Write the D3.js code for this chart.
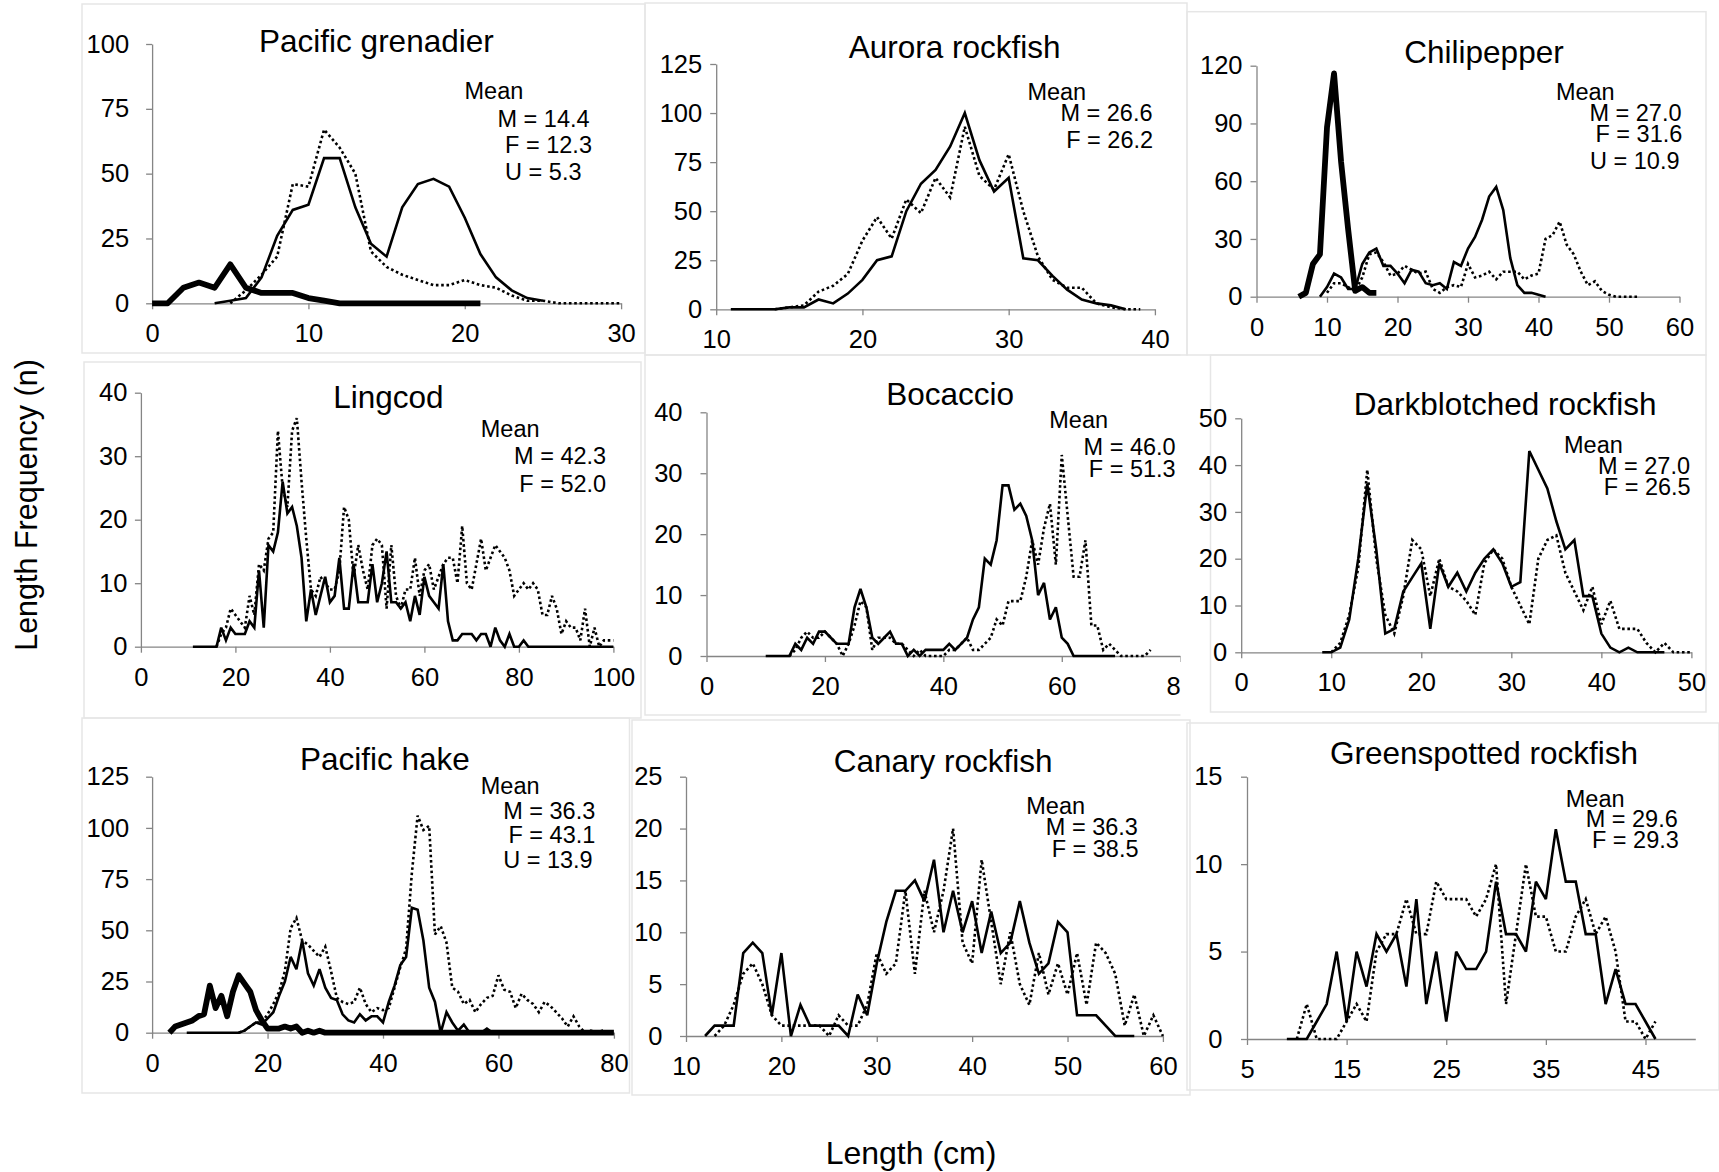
<!DOCTYPE html>
<html>
<head>
<meta charset="utf-8">
<script src="https://cdn.jsdelivr.net/npm/d3@7"></script>
<style>
  body { margin: 0; background: #fff; }
  svg { display: block; }
</style>
</head>
<body>
<svg id="chart" width="1719" height="1172"></svg>
<script>
// Length-frequency counts per 1-cm bin. Each series starts at the length
// given in the matching *Start array (order: male, female, unsexed).

// Pacific grenadier
const grenadierStart = [4, 5, 0];
const grenadierMale = [0,1,2,10,26,36,38,56,56,37,23,18,37,46,48,45,33,19,10,5,2,1];
const grenadierFemale = [0,5,11,18,46,45,67,60,50,20,14,11,9,7,7,9,7,6,3,1,1,0,0,0,0,0];
const grenadierUnsexed = [0,0,6,8,6,15,6,4,4,4,2,1,0,0,0,0,0,0,0,0,0,0];
const grenadierMeans = [14.4, 12.3, 5.3];
const grenadierXTicks = [0, 10, 20, 30];
const grenadierYTicks = [0, 25, 50, 75, 100];

// Aurora rockfish
const auroraStart = [11, 14];
const auroraMale = [0,0,0,0,1,1,5,3,8,15,25,27,50,64,71,83,100,76,60,67,26,25,17,10,5,3,2,0];
const auroraFemale = [0,1,2,9,12,18,35,47,36,56,49,67,57,93,68,61,79,50,27,15,11,11,3,1,0,0];
const auroraMeans = [26.6, 26.2];
const auroraXTicks = [10, 20, 30, 40];
const auroraYTicks = [0, 25, 50, 75, 100, 125];

// Chilipepper
const chilipepperStart = [9, 10, 6];
const chilipepperMale = [0,5,12,10,4,4,17,23,25,16,16,12,7,14,13,7,6,7,4,18,16,25,31,40,52,57,45,20,6,2,2,1,0];
const chilipepperFemale = [2,7,7,5,3,10,22,23,18,11,12,16,14,12,13,4,2,5,6,5,17,10,11,13,9,13,13,13,9,11,12,30,32,39,27,22,13,6,8,3,1,0,0,0,0];
const chilipepperUnsexed = [0,2,17,22,88,116,70,35,3,5,2,2];
const chilipepperMeans = [27.0, 31.6, 10.9];
const chilipepperXTicks = [0, 10, 20, 30, 40, 50, 60];
const chilipepperYTicks = [0, 30, 60, 90, 120];

// Lingcod
const lingcodStart = [11, 16];
const lingcodMale = [0,0,0,0,0,0,3,1,3,2,2,2,4,3,12,3,16,15,18,26,21,22,19,14,4,9,5,8,11,7,8,14,6,6,13,7,7,7,13,7,10,15,7,7,6,7,4,8,5,11,8,7,6,13,4,1,1,2,2,2,1,2,2,0,3,1,0,2,0,0,1,0,0,0,0,0,0,0,0,0,0,0,0,0,0,0,0,0,0,0];
const lingcodFemale = [0,2,3,6,5,4,3,8,5,13,12,17,18,34,25,22,34,36,26,17,9,8,11,10,9,9,12,22,20,11,16,12,9,16,17,16,6,16,8,6,9,9,14,8,12,13,9,11,13,14,14,10,19,10,9,13,17,12,14,16,15,14,12,8,9,10,9,10,9,5,5,8,6,2,4,3,3,1,6,0,3,0,1,1,1];
const lingcodMeans = [42.3, 52.0];
const lingcodXTicks = [0, 20, 40, 60, 80, 100];
const lingcodYTicks = [0, 10, 20, 30, 40];

// Bocaccio
const bocaccioStart = [10, 14];
const bocaccioMale = [0,0,0,0,0,2,1,3,2,4,4,3,2,2,2,8,11,8,3,2,3,4,2,2,0,1,0,1,1,1,1,2,1,2,3,6,8,16,15,19,28,28,24,25,23,19,10,12,6,8,3,2,0,0,0,0,0,0,0,0];
const bocaccioFemale = [0,1,3,4,3,3,4,3,2,0,2,5,9,8,1,3,3,3,2,2,1,0,1,0,0,0,0,1,1,2,3,1,1,2,3,6,5,9,9,9,13,19,15,21,25,15,33,23,13,13,19,5,5,1,2,1,0,0,0,0,0,1];
const bocaccioMeans = [46.0, 51.3];
const bocaccioXTicks = [0, 20, 40, 60, 80];
const bocaccioYTicks = [0, 10, 20, 30, 40];

// Darkblotched rockfish
const darkblotchedStart = [9, 10];
const darkblotchedMale = [0,0,1,7,20,36,22,4,5,13,16,19,5,19,14,17,13,17,20,22,19,14,15,43,39,35,28,22,24,12,12,4,1,0,1,0,0,0,0];
const darkblotchedFemale = [0,2,8,18,39,20,8,4,12,24,22,12,20,14,13,11,8,19,22,20,14,10,6,20,24,25,17,13,9,14,6,11,5,5,5,2,0,2,0,0,0];
const darkblotchedMeans = [27.0, 26.5];
const darkblotchedXTicks = [0, 10, 20, 30, 40, 50];
const darkblotchedYTicks = [0, 10, 20, 30, 40, 50];

// Pacific hake
const hakeStart = [6, 15, 3];
const hakeMale = [0,0,0,0,0,0,0,0,0,0,1,3,5,4,7,10,18,25,37,31,45,29,23,31,22,17,16,9,6,5,9,6,8,8,5,15,23,33,37,61,60,45,22,15,0,10,5,1,4,0,0,0,2,0,0,0,0,0];
const hakeFemale = [0,1,3,5,5,9,14,20,30,51,56,45,43,40,37,42,30,17,15,14,15,22,14,10,12,11,12,22,32,41,78,106,99,101,48,52,44,22,20,14,16,10,14,17,18,28,21,20,12,19,16,14,10,15,13,10,7,3,8,3,0,1,0,1,0,0];
const hakeUnsexed = [0,3,4,5,6,8,9,23,12,18,8,20,28,24,20,11,6,2,2,2,3,2,3,0,1,0,1,0,0,0,0,0,0,0,0,0,0,0,0,0,0,0,0,0,0,0,0,0,0,0,0,0,0,0,0,0,0,0,0,0,0,0,0,0,0,0,0,0,0,0,0,0,0,0,0,0,0,0];
const hakeMeans = [36.3, 43.1, 13.9];
const hakeXTicks = [0, 20, 40, 60, 80];
const hakeYTicks = [0, 25, 50, 75, 100, 125];

// Canary rockfish
const canaryStart = [12, 13];
const canaryMale = [0,1,1,1,8,9,8,2,8,0,3,1,1,1,1,0,4,2,7,11,14,14,15,13,17,10,14,10,13,8,12,8,9,13,9,6,7,11,10,2,2,2,1,0,0,0];
const canaryFemale = [0,1,3,6,7,5,2,1,1,1,1,1,0,2,1,1,3,8,6,7,14,6,14,10,14,20,9,7,17,11,5,10,5,3,8,4,7,4,8,3,9,8,6,1,4,0,2,0];
const canaryMeans = [36.3, 38.5];
const canaryXTicks = [10, 20, 30, 40, 50, 60];
const canaryYTicks = [0, 5, 10, 15, 20, 25];

// Greenspotted rockfish
const greenspottedStart = [9, 10];
const greenspottedMale = [0,0,0,1,2,5,1,5,3,6,5,6,3,8,2,5,1,5,4,4,5,9,6,6,5,9,8,12,9,9,6,6,2,4,2,2,1,0];
const greenspottedFemale = [0,2,0,0,0,1,2,1,5,6,6,8,6,6,9,8,8,8,7,8,10,2,6,10,7,7,5,5,7,8,6,7,5,1,1,0,1];
const greenspottedMeans = [29.6, 29.3];
const greenspottedXTicks = [5, 15, 25, 35, 45];
const greenspottedYTicks = [0, 5, 10, 15];

const sexCodes = ["M", "F", "U"];

const panels = [
  { title: "Pacific grenadier", start: grenadierStart, counts: [grenadierMale, grenadierFemale, grenadierUnsexed],
    means: grenadierMeans, xDomain: [0, 30], yDomain: [0, 100], xTicks: grenadierXTicks, yTicks: grenadierYTicks },
  { title: "Aurora rockfish", start: auroraStart, counts: [auroraMale, auroraFemale],
    means: auroraMeans, xDomain: [10, 40], yDomain: [0, 125], xTicks: auroraXTicks, yTicks: auroraYTicks },
  { title: "Chilipepper", start: chilipepperStart, counts: [chilipepperMale, chilipepperFemale, chilipepperUnsexed],
    means: chilipepperMeans, xDomain: [0, 60], yDomain: [0, 120], xTicks: chilipepperXTicks, yTicks: chilipepperYTicks },
  { title: "Lingcod", start: lingcodStart, counts: [lingcodMale, lingcodFemale],
    means: lingcodMeans, xDomain: [0, 100], yDomain: [0, 40], xTicks: lingcodXTicks, yTicks: lingcodYTicks },
  { title: "Bocaccio", start: bocaccioStart, counts: [bocaccioMale, bocaccioFemale],
    means: bocaccioMeans, xDomain: [0, 80], yDomain: [0, 40], xTicks: bocaccioXTicks, yTicks: bocaccioYTicks },
  { title: "Darkblotched rockfish", start: darkblotchedStart, counts: [darkblotchedMale, darkblotchedFemale],
    means: darkblotchedMeans, xDomain: [0, 50], yDomain: [0, 50], xTicks: darkblotchedXTicks, yTicks: darkblotchedYTicks },
  { title: "Pacific hake", start: hakeStart, counts: [hakeMale, hakeFemale, hakeUnsexed],
    means: hakeMeans, xDomain: [0, 80], yDomain: [0, 125], xTicks: hakeXTicks, yTicks: hakeYTicks },
  { title: "Canary rockfish", start: canaryStart, counts: [canaryMale, canaryFemale],
    means: canaryMeans, xDomain: [10, 60], yDomain: [0, 25], xTicks: canaryXTicks, yTicks: canaryYTicks },
  { title: "Greenspotted rockfish", start: greenspottedStart, counts: [greenspottedMale, greenspottedFemale],
    means: greenspottedMeans, xDomain: [5, 50], yDomain: [0, 15], xTicks: greenspottedXTicks, yTicks: greenspottedYTicks }
];

// Placement of each small chart on the page.
// plot: [left, right, bottom, top]; box: frame [x0, y0, x1, y1];
// mean: [x, baseline, anchor] for "Mean" then one entry per sex line.
const layout = [
  { box: [82, 4, 645, 353], plot: [152.1, 621.1, 303.3, 44], gap: 23, title: [376.4, 52],
    mean: [[464.5, 99, "start"], [497.5, 126.7, "start"], [505.1, 153, "start"], [505.1, 180, "start"]] },
  { box: [645, 3, 1187, 355], plot: [716.2, 1154.9, 309.3, 64], gap: 14, title: [954.7, 58],
    mean: [[1027.4, 100, "start"], [1152.5, 120.7, "end"], [1153.1, 148, "end"]] },
  { box: [1187, 11.7, 1706, 355], plot: [1256.5, 1679.5, 296.7, 65.7], gap: 14, title: [1484, 62.7],
    mean: [[1555.9, 100, "start"], [1681.5, 120.7, "end"], [1682.3, 141.7, "end"], [1679.5, 169.3, "end"]] },
  { box: [84, 362, 641, 718], plot: [140.9, 613.4, 646.7, 392.7], gap: 13.5, title: [388.4, 407.7],
    mean: [[480.8, 436.7, "start"], [606.2, 464, "end"], [606.2, 491.7, "end"]] },
  { box: [645, 355, 1190, 715], plot: [706.5, 1180.2, 656, 412.3], gap: 24, title: [950.2, 405], clipRight: 1180.5,
    mean: [[1049.3, 428.3, "start"], [1175.7, 455, "end"], [1175.7, 476.7, "end"]] },
  { box: [1210.5, 355, 1706, 712], plot: [1241.2, 1691.4, 652.3, 418.3], gap: 14, title: [1505.1, 415],
    mean: [[1564, 453.3, "start"], [1690, 474, "end"], [1690.7, 495, "end"]] },
  { box: [82, 718, 629.5, 1093], plot: [152.1, 613.9, 1032.7, 776.7], gap: 23, title: [384.9, 770],
    mean: [[480.8, 794.3, "start"], [595.3, 819, "end"], [595.3, 843.3, "end"], [592.7, 868.3, "end"]] },
  { box: [632, 720, 1190, 1095], plot: [686, 1162.9, 1036, 776.7], gap: 23.5, title: [943.2, 772.3],
    mean: [[1026.3, 814.3, "start"], [1137.9, 835, "end"], [1138.5, 856.7, "end"]] },
  { box: [1187, 723, 1719, 1090], plot: [1247, 1695.3, 1039, 776.7], gap: 24.5, title: [1484, 764.3],
    mean: [[1565.8, 806.7, "start"], [1677.8, 826.7, "end"], [1678.8, 848.3, "end"]] }
];

const FONT = '"Liberation Sans", Arial, Helvetica, sans-serif';
const AXIS_GREY = "#858585";

// Line style per sex: solid male, dotted female, heavy unsexed
const lineStyle = {
  M: { width: 2.6, dash: null, join: "miter" },
  F: { width: 2.6, dash: "2.6 2.7", join: "miter" },
  U: { width: 5.8, dash: null, join: "round" }
};
const drawOrder = ["F", "M", "U"];

const svg = d3.select("#chart");
svg.append("rect").attr("width", 1719).attr("height", 1172).attr("fill", "#fff");
const defs = svg.append("defs");

panels.forEach((p, i) => {
  const L = layout[i];
  const g = svg.append("g").attr("class", "panel");

  if (L.clipRight) {
    const id = "clip" + i;
    defs.append("clipPath").attr("id", id)
      .append("rect").attr("x", 0).attr("y", 0).attr("width", L.clipRight).attr("height", 1172);
    g.attr("clip-path", `url(#${id})`);
  }

  // faint frame around each small chart
  g.append("rect")
    .attr("x", L.box[0]).attr("y", L.box[1])
    .attr("width", L.box[2] - L.box[0]).attr("height", L.box[3] - L.box[1])
    .attr("fill", "none").attr("stroke", "#e6e6e6").attr("stroke-width", 1.5);

  const x = d3.scaleLinear().domain(p.xDomain).range([L.plot[0], L.plot[1]]);
  const y = d3.scaleLinear().domain(p.yDomain).range([L.plot[2], L.plot[3]]);

  const xAxis = g.append("g")
    .attr("transform", `translate(0,${y(0)})`)
    .call(d3.axisBottom(x).tickValues(p.xTicks).tickSize(6).tickSizeOuter(0).tickPadding(15));
  const yAxis = g.append("g")
    .attr("transform", `translate(${x(p.xDomain[0])},0)`)
    .call(d3.axisLeft(y).tickValues(p.yTicks).tickSize(6).tickSizeOuter(0).tickPadding(L.gap - 6));

  [xAxis, yAxis].forEach(a => {
    a.attr("font-family", FONT).attr("font-size", 25.5);
    a.select(".domain").attr("stroke", AXIS_GREY).attr("stroke-width", 1.3);
    a.selectAll(".tick line").attr("stroke", AXIS_GREY).attr("stroke-width", 1.3);
    a.selectAll(".tick text").attr("fill", "#000");
  });

  const line = d3.line().x(d => x(d[0])).y(d => y(d[1]));

  const series = p.counts.map((c, k) => ({
    sex: sexCodes[k],
    points: c.map((n, j) => [p.start[k] + j, n])
  }));

  drawOrder.forEach(sex => {
    series.filter(s => s.sex === sex).forEach(s => {
      const st = lineStyle[sex];
      g.append("path")
        .datum(s.points)
        .attr("d", line)
        .attr("fill", "none")
        .attr("stroke", "#000")
        .attr("stroke-width", st.width)
        .attr("stroke-linejoin", st.join)
        .attr("stroke-miterlimit", 3)
        .attr("stroke-dasharray", st.dash);
    });
  });

  g.append("text")
    .attr("x", L.title[0]).attr("y", L.title[1])
    .attr("text-anchor", "middle")
    .attr("font-family", FONT).attr("font-size", 31.5)
    .text(p.title);

  const meanLines = ["Mean"].concat(p.means.map((m, k) => `${sexCodes[k]} = ${m.toFixed(1)}`));
  meanLines.forEach((t, k) => {
    const pos = L.mean[k];
    g.append("text")
      .attr("x", pos[0]).attr("y", pos[1])
      .attr("text-anchor", pos[2])
      .attr("font-family", FONT).attr("font-size", 23.5)
      .text(t);
  });
});

// shared axis titles
svg.append("text")
  .attr("x", 911).attr("y", 1164)
  .attr("text-anchor", "middle")
  .attr("font-family", FONT).attr("font-size", 32)
  .text("Length (cm)");

svg.append("text")
  .attr("transform", "translate(37,505) rotate(-90)")
  .attr("text-anchor", "middle")
  .attr("font-family", FONT).attr("font-size", 30.5)
  .text("Length Frequency (n)");
</script>
</body>
</html>
